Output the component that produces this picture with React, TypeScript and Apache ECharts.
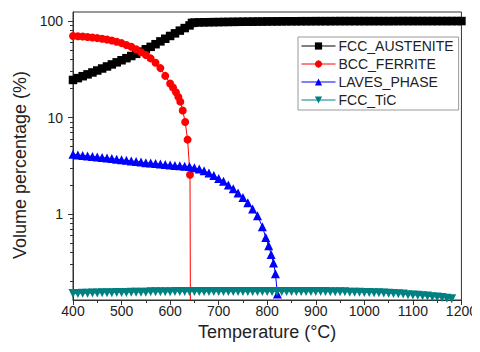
import React, { useEffect, useRef } from "react";
import * as echarts from "echarts";

const FONT = "'Liberation Sans', Arial, Helvetica, sans-serif";

const seriesNames = ["FCC_AUSTENITE", "BCC_FERRITE", "LAVES_PHASE", "FCC_TiC"];
const seriesColors = ["#000000", "#ff0000", "#0000ff", "#008080"];

const austeniteT = [
  400, 410, 420, 430, 440, 450, 460, 470, 480, 490, 500, 510, 520, 530, 540, 550, 560, 570, 580, 590,
  600, 610, 620, 630, 640, 645, 650, 660, 670, 680, 690, 700, 710, 720, 730, 740, 750, 760, 770, 780,
  790, 800, 810, 820, 830, 840, 850, 860, 870, 880, 890, 900, 910, 920, 930, 940, 950, 960, 970, 980,
  990, 1000, 1010, 1020, 1030, 1040, 1050, 1060, 1070, 1080, 1090, 1100, 1110, 1120, 1130, 1140, 1150,
  1160, 1170, 1180, 1190, 1200,
];
const austeniteV = [
  24.5, 25.6, 26.8, 28.0, 29.3, 30.7, 32.2, 33.8, 35.5, 37.3, 39.2, 41.2, 43.4, 45.7, 48.2, 51.0, 54.0,
  57.5, 61.5, 65.5, 70.0, 74.5, 79.5, 84.5, 90.0, 95.5, 96.3, 96.8, 97.0, 97.2, 97.4, 97.5, 97.7, 97.8,
  98.0, 98.1, 98.3, 98.4, 98.5, 98.7, 98.8, 99.0, 99.1, 99.2, 99.3, 99.4, 99.5, 99.5, 99.6, 99.6, 99.6,
  99.7, 99.7, 99.7, 99.7, 99.8, 99.8, 99.8, 99.8, 99.8, 99.8, 99.8, 99.8, 99.8, 99.8, 99.8, 99.8, 99.8,
  99.9, 99.9, 99.9, 99.9, 99.9, 99.9, 99.9, 99.9, 99.9, 99.9, 99.9, 99.9, 99.9, 99.9,
];

const ferriteT = [
  400, 410, 420, 430, 440, 450, 460, 470, 480, 490, 500, 510, 520, 530, 540, 550, 560, 570, 580, 590,
  600, 606, 612, 617, 621, 626, 631, 636, 641, 643,
];
const ferriteV = [
  70, 69.5, 69, 68.3, 67.5, 66.5, 65.5, 64.2, 62.8, 61, 59, 56.5, 54, 51, 47.5, 44.5, 41, 37, 32.5, 27,
  22.5, 20.5, 18.3, 16.3, 14.6, 11.8, 9.0, 5.9, 2.55, 0.001,
];

const lavesT = [
  400, 410, 420, 430, 440, 450, 460, 470, 480, 490, 500, 510, 520, 530, 540, 550, 560, 570, 580, 590,
  600, 610, 620, 630, 640, 650, 660, 670, 680, 690, 700, 710, 720, 730, 740, 750, 760, 770, 780, 790,
  797, 803, 808, 813, 817, 821,
];
const lavesV = [
  4.15, 4.1, 4.05, 4.0, 3.95, 3.9, 3.85, 3.8, 3.75, 3.7, 3.65, 3.6, 3.55, 3.5, 3.45, 3.4, 3.37, 3.33,
  3.29, 3.25, 3.22, 3.19, 3.16, 3.13, 3.1, 3.02, 2.92, 2.8, 2.66, 2.5, 2.34, 2.18, 2.0, 1.83, 1.65, 1.48,
  1.31, 1.13, 0.96, 0.74, 0.57, 0.47, 0.38, 0.31, 0.24, 0.148,
];

const ticT = [
  400, 410, 420, 430, 440, 450, 460, 470, 480, 490, 500, 510, 520, 530, 540, 550, 560, 570, 580, 590,
  600, 610, 620, 630, 640, 650, 660, 670, 680, 690, 700, 710, 720, 730, 740, 750, 760, 770, 780, 790,
  800, 810, 820, 830, 840, 850, 860, 870, 880, 890, 900, 910, 920, 930, 940, 950, 960, 970, 980, 990,
  1000, 1010, 1020, 1030, 1040, 1050, 1060, 1070, 1080, 1090, 1100, 1110, 1120, 1130, 1140, 1150, 1160,
  1170, 1180,
];
const ticV = [
  0.150, 0.150, 0.151, 0.151, 0.152, 0.152, 0.153, 0.153, 0.153, 0.154, 0.154, 0.154, 0.155, 0.155,
  0.155, 0.155, 0.156, 0.156, 0.156, 0.156, 0.156, 0.157, 0.157, 0.157, 0.157, 0.157, 0.157, 0.157,
  0.157, 0.157, 0.157, 0.157, 0.157, 0.157, 0.157, 0.157, 0.157, 0.157, 0.157, 0.157, 0.157, 0.157,
  0.157, 0.157, 0.157, 0.157, 0.157, 0.157, 0.157, 0.157, 0.157, 0.157, 0.157, 0.156, 0.156, 0.156,
  0.156, 0.155, 0.155, 0.155, 0.154, 0.154, 0.153, 0.153, 0.152, 0.151, 0.150, 0.149, 0.148, 0.146,
  0.145, 0.144, 0.142, 0.141, 0.139, 0.138, 0.136, 0.134, 0.132,
];

const xTicks = [400, 500, 600, 700, 800, 900, 1000, 1100, 1200];
const yMajorTicks = [1, 10, 100];
const yMinorTicks = [
  0.2, 0.3, 0.4, 0.5, 0.6, 0.7, 0.8, 0.9, 2, 3, 4, 5, 6, 7, 8, 9, 20, 30, 40, 50, 60, 70, 80, 90,
];

const Y_MIN = 0.1285;
const Y_MAX = 124;

function pairs(t: number[], v: number[]) {
  return t.map((x, i) => [x, v[i]]);
}

export default function App() {
  const ref = useRef<HTMLDivElement>(null);
  useEffect(() => {
    if (!ref.current) return;
    const chart = echarts.init(ref.current, null, { renderer: "svg" });
    const symbols = ["rect", "circle", "triangle", "triangle"];
    const rot = [0, 0, 0, 180];
    const sizes = [8.5, 8, 9, 9];
    const datas = [
      pairs(austeniteT, austeniteV),
      pairs(ferriteT, ferriteV),
      pairs(lavesT, lavesV),
      pairs(ticT, ticV),
    ];
    const axisColor = "#333";
    chart.setOption({
      animation: false,
      textStyle: { fontFamily: FONT },
      grid: {
        left: 73,
        right: 16,
        top: 12,
        bottom: 52,
        show: true,
        borderColor: axisColor,
        borderWidth: 1,
        containLabel: false,
      },
      legend: {
        orient: "vertical",
        left: 298,
        top: 37,
        itemWidth: 34,
        itemHeight: 9,
        itemGap: 4,
        padding: [2, 5, 3, 3],
        borderColor: "#999",
        borderWidth: 1,
        lineStyle: { width: 1 },
        textStyle: { fontFamily: FONT, fontSize: 14, color: "#222", padding: [0, 0, 0, -2] },
        data: seriesNames,
      },
      xAxis: {
        type: "value",
        min: 400,
        max: 1200,
        interval: 100,
        name: "Temperature (°C)",
        nameLocation: "middle",
        nameGap: 23,
        nameTextStyle: { fontFamily: FONT, fontSize: 18, color: "#222" },
        axisLine: { show: true, lineStyle: { color: axisColor, width: 1 } },
        axisTick: { show: true, length: 5, lineStyle: { color: axisColor } },
        minorTick: { show: true, splitNumber: 2, length: 3, lineStyle: { color: axisColor } },
        splitLine: { show: false },
        axisLabel: {
          fontFamily: FONT,
          fontSize: 14,
          color: "#222",
          margin: 4,
          hideOverlap: false,
          formatter: (v: number) => String(v),
        },
      },
      yAxis: [
        {
          type: "log",
          logBase: 10,
          min: Y_MIN,
          max: Y_MAX,
          name: "Volume percentage (%)",
          nameLocation: "middle",
          nameGap: 33,
          nameRotate: 90,
          nameTextStyle: { fontFamily: FONT, fontSize: 18, color: "#222", padding: [0, 18, 0, 0] },
          axisLine: { show: true, lineStyle: { color: axisColor, width: 1 } },
          axisTick: { show: true, length: 5, customValues: yMajorTicks, lineStyle: { color: axisColor } },
          splitLine: { show: false },
          minorTick: { show: false },
          axisLabel: {
            fontFamily: FONT,
            fontSize: 14,
            color: "#222",
            margin: 10,
            customValues: yMajorTicks,
            formatter: (v: number) => String(Math.round(v)),
          },
        },
        {
          type: "log",
          logBase: 10,
          min: Y_MIN,
          max: Y_MAX,
          position: "left",
          axisLine: { show: false },
          axisTick: { show: true, length: 3, customValues: yMinorTicks, lineStyle: { color: axisColor } },
          axisLabel: { show: false },
          splitLine: { show: false },
        },
      ],
      series: seriesNames.map((name, i) => ({
        name,
        type: "line",
        xAxisIndex: 0,
        yAxisIndex: 0,
        data: datas[i],
        symbol: symbols[i],
        symbolRotate: rot[i],
        symbolSize: sizes[i],
        showSymbol: true,
        showAllSymbol: true,
        clip: true,
        color: seriesColors[i],
        itemStyle: { color: seriesColors[i] },
        lineStyle: { color: seriesColors[i], width: 1 },
        emphasis: { disabled: true },
      })),
    });
    return () => chart.dispose();
  }, []);
  return <div ref={ref} style={{ width: 480, height: 352, margin: -8 }} />;
}
